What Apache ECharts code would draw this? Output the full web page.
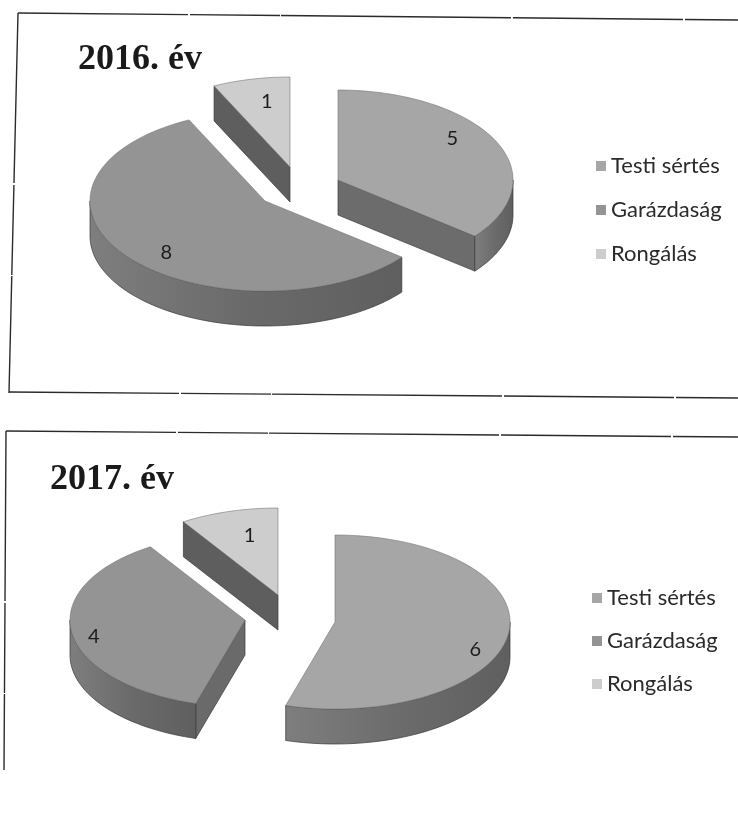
<!DOCTYPE html>
<html>
<head>
<meta charset="utf-8">
<style>
html,body{margin:0;padding:0;background:#fff}
#c{width:738px;height:834px;filter:blur(0.5px)}
</style>
<script src="https://cdn.jsdelivr.net/npm/echarts@6/dist/echarts.min.js"></script>
</head>
<body>
<div id="c"></div>
<script>
// ---- data ----
const categories = ['Testi sértés', 'Garázdaság', 'Rongálás'];
const values2016 = [5, 8, 1];
const values2017 = [6, 4, 1];
const years = ['2016. év', '2017. év'];

// ---- layout and style (separate from the data) ----
const radiusX = 175, wallHeight = 35;
const radiusY2016 = 90, radiusY2017 = 87;
const centers2016 = [[338, 180], [265, 201], [290, 167]];
const centers2017 = [[335, 622], [245, 620], [278, 595]];
const labelNudge2016 = [[4, -14], [-3, 12], [4, -4]];
const labelNudge2017 = [[19, 19], [-30, 8], [6, -1]];
const topColors = ['#a6a6a6', '#949494', '#cdcdcd'];
const wallColors = ['#6c6c6c', '#6a6a6a', '#5e5e5e'];

const rad = d => d * Math.PI / 180;

function slicePoint(c, ry, deg, drop) {
  return [c[0] + radiusX * Math.sin(rad(deg)), c[1] - ry * Math.cos(rad(deg)) + (drop || 0)];
}
function arc(c, ry, from, to, drop) {
  const pts = [], n = Math.max(2, Math.ceil(Math.abs(to - from) / 2));
  for (let i = 0; i <= n; i++) pts.push(slicePoint(c, ry, from + (to - from) * i / n, drop));
  return pts;
}

function makeSeries(name, idx, values, centers, nudges, ry) {
  const total = values.reduce((a, b) => a + b, 0);
  return {
    type: 'custom',
    name: name,
    coordinateSystem: 'none',
    itemStyle: { color: topColors[idx] },
    silent: true,
    data: [[values[idx]]],
    renderItem: function (params, api) {
      const v = api.value(0);
      const before = values.slice(0, idx).reduce((a, b) => a + b, 0);
      const s = before / total * 360, e = (before + v) / total * 360;
      const c = centers[idx];
      const kids = [];
      const wallStyle = { fill: wallColors[idx], stroke: '#3a3a3a', lineWidth: 0.7 };
      const addFace = function (deg) {
        const p = slicePoint(c, ry, deg);
        kids.push({ type: 'polygon', shape: { points: [c, p, [p[0], p[1] + wallHeight], [c[0], c[1] + wallHeight]] }, style: wallStyle });
      };
      if (Math.sin(rad(s)) < -1e-6) addFace(s);
      if (Math.sin(rad(e)) > 1e-6) addFace(e);
      const a = Math.max(s, 90), b = Math.min(e, 270);
      if (b > a) {
        const top = arc(c, ry, a, b, 0), bottom = arc(c, ry, b, a, wallHeight);
        kids.push({
          type: 'polygon', shape: { points: top.concat(bottom) },
          style: {
            fill: new echarts.graphic.LinearGradient(0, 0, 1, 0, [
              { offset: 0, color: '#7e7e7e' }, { offset: 0.5, color: wallColors[idx] }, { offset: 1, color: '#5f5f5f' }
            ]),
            stroke: '#3a3a3a', lineWidth: 0.7
          }
        });
      }
      kids.push({
        type: 'polygon',
        shape: { points: [c].concat(arc(c, ry, s, e, 0)) },
        style: { fill: topColors[idx], stroke: '#777', lineWidth: 0.6 }
      });
      const m = (s + e) / 2, n = nudges[idx];
      const lp = [c[0] + 0.7 * radiusX * Math.sin(rad(m)) + n[0], c[1] - 0.7 * ry * Math.cos(rad(m)) + n[1]];
      kids.push({
        type: 'text', x: lp[0], y: lp[1],
        style: { text: String(v), fill: '#1c1c1c', font: '20px Lato', textAlign: 'center', textVerticalAlign: 'middle' }
      });
      return { type: 'group', children: kids };
    }
  };
}

const series = [];
categories.forEach((n, i) => series.push(makeSeries(n, i, values2016, centers2016, labelNudge2016, radiusY2016)));
categories.forEach((n, i) => series.push(makeSeries(n, i, values2017, centers2017, labelNudge2017, radiusY2017)));

const legendBase = {
  data: categories, orient: 'vertical', icon: 'rect', itemWidth: 10, itemHeight: 10, padding: 0,
  selectedMode: false, textStyle: { fontFamily: 'Lato', fontSize: 22, color: '#2a2a2a' }
};
const frameStyle = { stroke: '#2b2b2b', lineWidth: 1.4, lineDash: [170, 2, 90, 1, 230, 2], fill: 'none' };
const frames = [
  [[18, 13], [738, 20]], [[18, 13], [9, 393]], [[9, 392], [738, 398]],
  [[6, 431], [738, 437]], [[6, 431], [4, 770]]
];

const chart = echarts.init(document.getElementById('c'));
chart.setOption({
  animation: false,
  backgroundColor: '#fff',
  title: [
    { text: years[0], left: 73, top: 37, textStyle: { fontFamily: 'Liberation Serif', fontWeight: 'bold', fontSize: 36, color: '#1a1a1a' } },
    { text: years[1], left: 45, top: 457, textStyle: { fontFamily: 'Liberation Serif', fontWeight: 'bold', fontSize: 36, color: '#1a1a1a' } }
  ],
  legend: [
    Object.assign({}, legendBase, { left: 596, top: 155, itemGap: 22 }),
    Object.assign({}, legendBase, { left: 592, top: 587, itemGap: 21 })
  ],
  graphic: frames.map(f => ({ type: 'polyline', silent: true, shape: { points: f }, style: frameStyle })),
  series: series
});
</script>
</body>
</html>
